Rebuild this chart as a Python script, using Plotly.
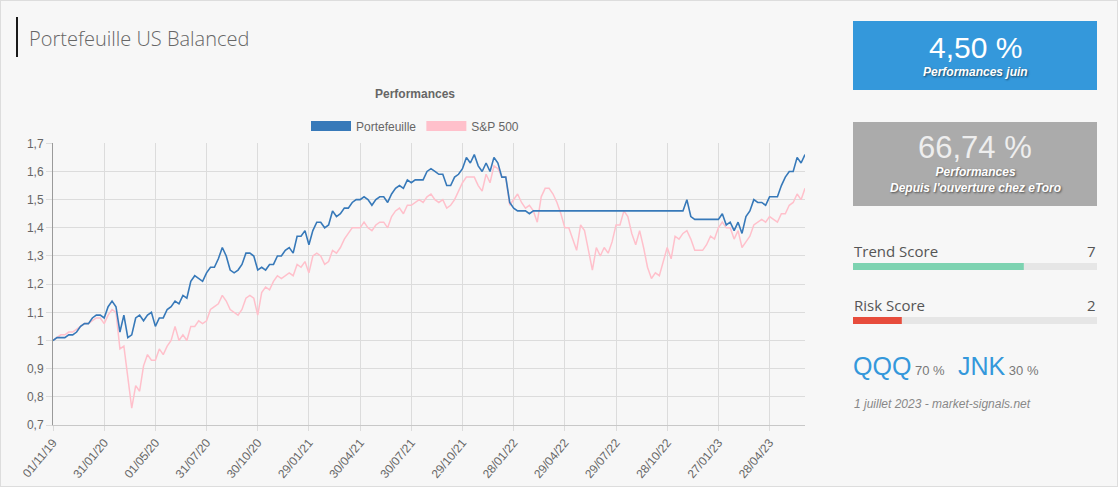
import pandas as pd
import plotly.graph_objects as go

# ---------------- data ----------------
dates = pd.date_range("2019-11-01", periods=192, freq="7D").strftime("%d/%m/%y").tolist()

portefeuille = [
    1.00, 1.01, 1.01, 1.01, 1.02, 1.02, 1.03, 1.05, 1.06, 1.06,
    1.08, 1.09, 1.09, 1.08, 1.12, 1.14, 1.12, 1.03, 1.09, 1.01,
    1.02, 1.08, 1.09, 1.07, 1.09, 1.10, 1.05, 1.08, 1.08, 1.11,
    1.12, 1.14, 1.13, 1.16, 1.15, 1.21, 1.23, 1.22, 1.21, 1.24,
    1.26, 1.26, 1.29, 1.33, 1.30, 1.25, 1.24, 1.25, 1.27, 1.31,
    1.31, 1.30, 1.25, 1.26, 1.25, 1.27, 1.27, 1.30, 1.30, 1.32,
    1.33, 1.31, 1.37, 1.37, 1.39, 1.34, 1.39, 1.42, 1.42, 1.40,
    1.41, 1.46, 1.44, 1.45, 1.47, 1.47, 1.49, 1.50, 1.50, 1.51,
    1.50, 1.48, 1.50, 1.51, 1.51, 1.49, 1.52, 1.54, 1.55, 1.54,
    1.57, 1.56, 1.57, 1.57, 1.57, 1.60, 1.61, 1.60, 1.59, 1.59,
    1.55, 1.55, 1.58, 1.59, 1.61, 1.65, 1.63, 1.66, 1.62, 1.60,
    1.63, 1.60, 1.65, 1.63, 1.58, 1.58, 1.49, 1.47, 1.46, 1.46,
    1.46, 1.45, 1.46, 1.46, 1.46, 1.46, 1.46, 1.46, 1.46, 1.46,
    1.46, 1.46, 1.46, 1.46, 1.46, 1.46, 1.46, 1.46, 1.46, 1.46,
    1.46, 1.46, 1.46, 1.46, 1.46, 1.46, 1.46, 1.46, 1.46, 1.46,
    1.46, 1.46, 1.46, 1.46, 1.46, 1.46, 1.46, 1.46, 1.46, 1.46,
    1.46, 1.50, 1.44, 1.43, 1.43, 1.43, 1.43, 1.43, 1.43, 1.43,
    1.45, 1.41, 1.42, 1.39, 1.42, 1.38, 1.44, 1.46, 1.50, 1.49,
    1.49, 1.48, 1.51, 1.51, 1.51, 1.55, 1.58, 1.60, 1.60, 1.65,
    1.63, 1.66,
]

sp500 = [
    1.00, 1.01, 1.02, 1.02, 1.03, 1.03, 1.04, 1.05, 1.06, 1.06,
    1.07, 1.08, 1.08, 1.06, 1.09, 1.11, 1.10, 0.97, 0.98, 0.87,
    0.76, 0.84, 0.82, 0.91, 0.95, 0.93, 0.93, 0.97, 0.95, 0.98,
    1.00, 1.05, 1.00, 1.02, 1.00, 1.05, 1.05, 1.07, 1.06, 1.07,
    1.11, 1.12, 1.13, 1.16, 1.14, 1.11, 1.10, 1.09, 1.11, 1.15,
    1.16, 1.15, 1.09, 1.17, 1.19, 1.18, 1.21, 1.23, 1.22, 1.23,
    1.24, 1.23, 1.27, 1.26, 1.28, 1.24, 1.30, 1.31, 1.30, 1.27,
    1.28, 1.32, 1.31, 1.33, 1.36, 1.38, 1.40, 1.40, 1.40, 1.42,
    1.40, 1.39, 1.41, 1.42, 1.42, 1.40, 1.44, 1.46, 1.47, 1.45,
    1.48, 1.48, 1.49, 1.50, 1.49, 1.51, 1.52, 1.50, 1.49, 1.50,
    1.47, 1.48, 1.50, 1.53, 1.56, 1.58, 1.58, 1.58, 1.55, 1.53,
    1.59, 1.56, 1.62, 1.61, 1.58, 1.58, 1.48, 1.50, 1.52, 1.49,
    1.47, 1.48, 1.46, 1.42, 1.51, 1.54, 1.54, 1.52, 1.49, 1.45,
    1.40, 1.40, 1.36, 1.32, 1.41, 1.39, 1.32, 1.25, 1.33, 1.30,
    1.33, 1.31, 1.35, 1.41, 1.41, 1.46, 1.44, 1.38, 1.34, 1.39,
    1.33, 1.26, 1.22, 1.24, 1.23, 1.28, 1.33, 1.29, 1.37, 1.36,
    1.38, 1.39, 1.36, 1.32, 1.32, 1.32, 1.34, 1.37, 1.36, 1.40,
    1.42, 1.40, 1.40, 1.36, 1.39, 1.33, 1.35, 1.37, 1.41, 1.42,
    1.43, 1.42, 1.44, 1.43, 1.42, 1.45, 1.45, 1.48, 1.49, 1.52,
    1.50, 1.54,
]

x_tick_labels = ["01/11/19", "31/01/20", "01/05/20", "31/07/20", "30/10/20",
                 "29/01/21", "30/04/21", "30/07/21", "29/10/21", "28/01/22",
                 "29/04/22", "29/07/22", "28/10/22", "27/01/23", "28/04/23"]
y_tick_vals = [0.7, 0.8, 0.9, 1.0, 1.1, 1.2, 1.3, 1.4, 1.5, 1.6, 1.7]
y_tick_labels = ["0,7", "0,8", "0,9", "1", "1,1", "1,2", "1,3", "1,4", "1,5", "1,6", "1,7"]

series_names = ["Portefeuille", "S&P 500"]
perf_month = "4,50 %"
perf_month_label = "Performances juin"
perf_total = "66,74 %"
perf_total_label = "Performances<br>Depuis l'ouverture chez eToro"
trend_score = 7
risk_score = 2
score_max = 10
allocation = [("QQQ", "70 %"), ("JNK", "30 %")]
footer = "1 juillet 2023 - market-signals.net"

# ---------------- layout helpers ----------------
W, H = 1118, 487
def fx(px):
    return px / W
def fy(py):
    return 1 - py / H

BLUE = "#3779b9"
PINK = "#ffc0cb"
BG = "#f7f7f7"
CHART_FONT = "Liberation Sans, Arial, sans-serif"

fig = go.Figure()

# main lines (pink below blue)
fig.add_trace(go.Scatter(x=dates, y=sp500, mode="lines", name=series_names[1],
                         line=dict(color=PINK, width=1.5), showlegend=False,
                         xaxis="x", yaxis="y"))
fig.add_trace(go.Scatter(x=dates, y=portefeuille, mode="lines", name=series_names[0],
                         line=dict(color=BLUE, width=1.6), showlegend=False,
                         xaxis="x", yaxis="y"))
# legend entries (box-like)
fig.add_trace(go.Scatter(x=[None], y=[None], mode="lines", name=series_names[0],
                         line=dict(color=BLUE, width=12), legendrank=1))
fig.add_trace(go.Scatter(x=[None], y=[None], mode="lines", name=series_names[1],
                         line=dict(color=PINK, width=12), legendrank=2))

# score bars
for ax, score, color in [("2", trend_score, "#7dd3b1"), ("3", risk_score, "#e74c3c")]:
    fig.add_trace(go.Bar(x=[score_max], y=[0], orientation="h", width=1,
                         marker=dict(color="#e6e6e6", line=dict(width=0)),
                         xaxis="x" + ax, yaxis="y" + ax, showlegend=False, hoverinfo="skip"))
    fig.add_trace(go.Bar(x=[score], y=[0], orientation="h", width=1,
                         marker=dict(color=color, line=dict(width=0)),
                         xaxis="x" + ax, yaxis="y" + ax, showlegend=False, hoverinfo="skip"))

axis_font = dict(family=CHART_FONT, size=12, color="#666")

fig.update_layout(
    width=W, height=H,
    margin=dict(l=0, r=0, t=0, b=0),
    paper_bgcolor=BG, plot_bgcolor=BG,
    barmode="overlay",
    showlegend=True,
    legend=dict(orientation="h", x=fx(415), y=fy(126), xanchor="center", yanchor="middle",
                font=dict(family=CHART_FONT, size=12, color="#666"),
                bgcolor="rgba(0,0,0,0)", itemwidth=40, traceorder="normal"),
    xaxis=dict(domain=[fx(53), fx(805)], type="category", range=[0, 191],
               tickmode="array", tickvals=x_tick_labels, ticktext=x_tick_labels,
               tickangle=-50, tickfont=axis_font,
               showgrid=True, gridcolor="#dcdcdc", gridwidth=1,
               showline=True, linecolor="#c8c8c8", linewidth=1,
               ticks="outside", ticklen=5, tickcolor="#dcdcdc",
               zeroline=False, automargin=False, anchor="y", fixedrange=True),
    yaxis=dict(domain=[fy(425), fy(143.3)], range=[0.7, 1.7],
               tickmode="array", tickvals=y_tick_vals, ticktext=y_tick_labels,
               tickfont=axis_font,
               showgrid=True, gridcolor="#dcdcdc", gridwidth=1,
               showline=True, linecolor="#9a9a9a", linewidth=1,
               ticks="outside", ticklen=6, tickcolor="#dcdcdc",
               zeroline=False, automargin=False, anchor="x", fixedrange=True),
    xaxis2=dict(domain=[fx(853), fx(1097)], range=[0, score_max], visible=False, anchor="y2", fixedrange=True),
    yaxis2=dict(domain=[fy(270), fy(263)], range=[-0.5, 0.5], visible=False, anchor="x2", fixedrange=True),
    xaxis3=dict(domain=[fx(853), fx(1097)], range=[0, score_max], visible=False, anchor="y3", fixedrange=True),
    yaxis3=dict(domain=[fy(324), fy(317)], range=[-0.5, 0.5], visible=False, anchor="x3", fixedrange=True),
)

shapes = [
    # card border
    dict(type="rect", xref="paper", yref="paper", x0=0, x1=1, y0=0, y1=1,
         line=dict(color="#dddddd", width=2), fillcolor="rgba(0,0,0,0)", layer="above"),
    # title accent bar
    dict(type="rect", xref="paper", yref="paper", x0=fx(16), x1=fx(18), y0=fy(57), y1=fy(17),
         line=dict(width=0), fillcolor="#1a1a1a"),
    # blue box
    dict(type="rect", xref="paper", yref="paper", x0=fx(853), x1=fx(1097), y0=fy(90), y1=fy(21),
         line=dict(width=0), fillcolor="#3498db"),
    # gray box
    dict(type="rect", xref="paper", yref="paper", x0=fx(853), x1=fx(1097), y0=fy(206), y1=fy(122),
         line=dict(width=0), fillcolor="#ababab"),
]
fig.update_layout(shapes=shapes)

shadow = "1px 1px 2px rgba(0,0,0,0.55)"
ann = []
def A(text, x, y, size, color, family=CHART_FONT, xanchor="left", yanchor="middle",
      weight="normal", style="normal", shadow_=None, align="left"):
    f = dict(family=family, size=size, color=color, weight=weight, style=style)
    if shadow_:
        f["shadow"] = shadow_
    ann.append(dict(text=text, x=fx(x), y=fy(y), xref="paper", yref="paper",
                    xanchor=xanchor, yanchor=yanchor, showarrow=False, font=f, align=align))

A("Portefeuille US Balanced", 27, 38, 20, "#666", family="Open Sans, sans-serif", weight=300)
A("Performances", 415, 94, 12, "#666", xanchor="center", weight="bold")

A(perf_month, 975, 47, 30, "#ffffff", xanchor="center")
A(perf_month_label, 975, 72, 12, "#ffffff", xanchor="center", weight="bold", style="italic", shadow_=shadow)
A(perf_total, 975, 147, 31, "#eeeeee", xanchor="center")
A(perf_total_label, 975, 180, 12, "#ffffff", xanchor="center", weight="bold", style="italic",
  shadow_=shadow, align="center")

A("Trend Score", 852, 251, 15, "#555", family="Open Sans, sans-serif")
A(str(trend_score), 1098, 251, 15, "#555", family="Open Sans, sans-serif", xanchor="right")
A("Risk Score", 852, 305, 15, "#555", family="Open Sans, sans-serif")
A(str(risk_score), 1098, 305, 15, "#555", family="Open Sans, sans-serif", xanchor="right")

alloc_x = [851, 956]
for (tk, pct), ax_ in zip(allocation, alloc_x):
    A(f"{tk}<span style='font-size:13px;color:#777'> {pct}</span>", ax_, 366, 25, "#3498db")

A(footer, 852, 404, 12, "#888", style="italic")

fig.update_layout(annotations=ann)

fig.write_html("out.html", config={"displayModeBar": False},
               post_script="document.body.style.margin='0';document.body.style.padding='0';")
